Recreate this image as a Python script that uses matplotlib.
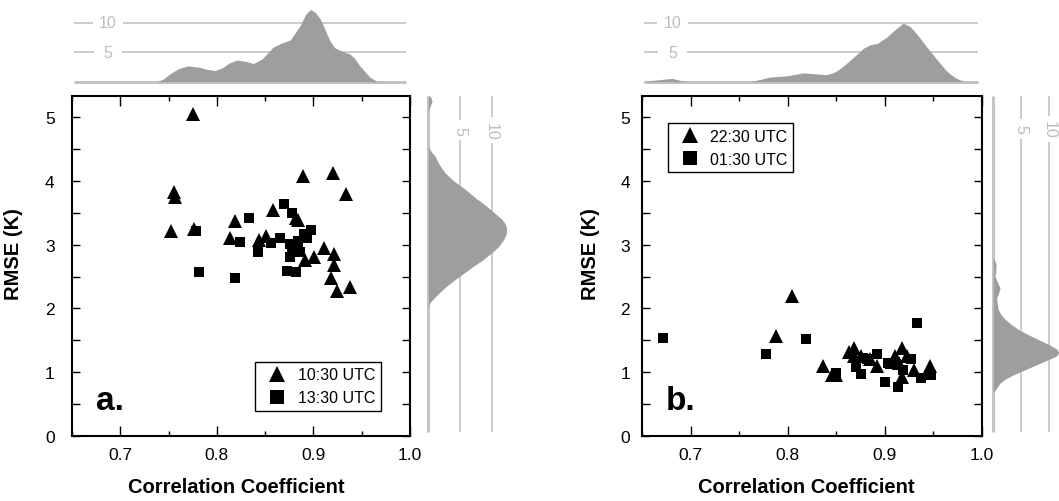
import numpy as np
import matplotlib
matplotlib.use("Agg")
import matplotlib.pyplot as plt

plt.rcParams['font.family'] = ['Liberation Sans', 'DejaVu Sans']

# ---- scatter data ----
# panel a: 10:30 UTC (triangles) and 13:30 UTC (squares)
a_tri_r = [0.775, 0.756, 0.757, 0.752, 0.776, 0.889, 0.920, 0.934, 0.858, 0.819, 0.814, 0.882,
           0.884, 0.844, 0.851, 0.911, 0.921, 0.921, 0.901, 0.891, 0.918, 0.924, 0.938]
a_tri_e = [5.05, 3.82, 3.74, 3.21, 3.24, 4.08, 4.13, 3.80, 3.55, 3.37, 3.11, 3.42,
           3.38, 3.08, 3.13, 2.94, 2.86, 2.68, 2.80, 2.76, 2.47, 2.28, 2.34]
a_sq_r = [0.778, 0.781, 0.819, 0.824, 0.833, 0.843, 0.856, 0.865, 0.870, 0.878, 0.876,
          0.878, 0.876, 0.884, 0.890, 0.897, 0.873, 0.882, 0.886, 0.884, 0.893]
a_sq_e = [3.21, 2.57, 2.47, 3.04, 3.42, 2.89, 3.02, 3.10, 3.63, 3.49, 3.01,
          2.88, 2.80, 2.93, 3.16, 3.23, 2.59, 2.57, 2.88, 3.06, 3.10]

# panel b: 22:30 UTC (triangles) and 01:30 UTC (squares)
b_tri_r = [0.804, 0.788, 0.836, 0.846, 0.850, 0.863, 0.868, 0.875, 0.868, 0.892, 0.910,
           0.918, 0.923, 0.930, 0.946, 0.918, 0.885, 0.915]
b_tri_e = [2.20, 1.57, 1.10, 0.96, 0.95, 1.32, 1.38, 1.25, 1.25, 1.09, 1.25,
           1.38, 1.25, 1.04, 1.10, 0.93, 1.20, 1.15]
b_sq_r = [0.672, 0.778, 0.819, 0.933, 0.850, 0.870, 0.875, 0.877, 0.892, 0.900, 0.903,
          0.914, 0.911, 0.937, 0.947, 0.919, 0.882, 0.927, 0.905]
b_sq_e = [1.54, 1.29, 1.52, 1.77, 0.99, 1.08, 0.97, 1.22, 1.28, 0.84, 1.15,
          0.77, 1.13, 0.91, 0.96, 1.04, 1.20, 1.20, 1.13]

labels_a = ['10:30 UTC', '13:30 UTC']
labels_b = ['22:30 UTC', '01:30 UTC']

# ---- marginal density curves ----
a_top_r = [0.650, 0.738, 0.745, 0.751, 0.760, 0.770, 0.782, 0.790, 0.798, 0.806, 0.813, 0.821,
           0.830, 0.838, 0.847, 0.858, 0.867, 0.876, 0.886, 0.892, 0.897, 0.902, 0.907, 0.912,
           0.917, 0.922, 0.928, 0.938, 0.943, 0.948, 0.954, 0.959, 0.966, 1.0]
a_top_d = [0, 0, 0.5, 1.3, 2.2, 2.7, 2.45, 2.1, 1.9, 2.4, 3.2, 3.7,
           3.45, 3.1, 3.9, 5.85, 6.6, 7.1, 9.5, 11.5, 12.3, 11.8, 10.7, 8.9,
           7.0, 5.8, 5.3, 4.7, 3.9, 2.7, 1.6, 0.7, 0.05, 0]

b_top_r = [0.650, 0.665, 0.681, 0.694, 0.700, 0.761, 0.772, 0.782, 0.799, 0.816, 0.828, 0.840,
           0.848, 0.854, 0.861, 0.868, 0.878, 0.885, 0.892, 0.902, 0.910, 0.919, 0.926, 0.933,
           0.940, 0.947, 0.955, 0.962, 0.968, 0.974, 0.981, 1.0]
b_top_d = [0, 0.3, 0.56, 0.05, 0, 0, 0.4, 0.8, 1.0, 1.5, 1.35, 1.2,
           1.6, 2.25, 3.2, 4.2, 5.7, 6.3, 6.5, 7.6, 8.8, 10.0, 9.4, 8.1,
           6.6, 5.1, 3.5, 2.1, 1.2, 0.56, 0.05, 0]

a_side_e = [5.33, 5.25, 5.17, 5.09, 4.54, 4.45, 4.39, 4.26, 4.13, 4.00, 3.87, 3.73, 3.60, 3.40,
            3.32, 3.24, 3.16, 3.08, 2.97, 2.87, 2.76, 2.66, 2.55, 2.45, 2.35, 2.25, 2.15,
            2.09, 2.01, 0.05]
a_side_d = [0.3, 0.6, 0.3, 0, 0, 0.5, 1.05, 1.7, 2.6, 4.0, 5.8, 7.5, 9.25, 11.6,
            12.2, 12.4, 12.3, 11.9, 11.1, 10.0, 8.6, 7.1, 5.6, 4.2, 2.9, 1.8, 0.8,
            0.26, 0, 0]

b_side_e = [5.33, 2.80, 2.70, 2.60, 2.50, 2.40, 2.32, 2.23, 2.16, 2.07, 1.98, 1.90, 1.83,
            1.75, 1.67, 1.59, 1.51, 1.43, 1.36, 1.30, 1.25, 1.20, 1.12, 1.04, 0.96, 0.89,
            0.82, 0.75, 0.68, 0.05]
b_side_d = [0, 0, 0.5, 0.45, 0.3, 0.8, 1.2, 0.9, 0.6, 0.7, 0.9, 1.4, 2.1,
            3.2, 4.5, 6.2, 8.1, 10.0, 11.4, 11.7, 11.2, 9.9, 7.8, 5.7, 3.6, 2.1,
            1.1, 0.6, 0, 0]

W, H = 1059, 502
fig = plt.figure(figsize=(W / 100, H / 100), dpi=100)


def box(l, t, r, b):
    # pixel box -> figure fraction
    return [l / W, 1 - b / H, (r - l) / W, (b - t) / H]


XLIM = (0.65, 1.0)
YLIM = (0.0, 5.33)
grid_c = '#c8c8c8'
lab_c = '#bdbdbd'
fill_c = '#9e9e9e'


def main_panel(rect, tri_r, tri_e, sq_r, sq_e, labels, letter, leg_loc, leg_anchor, ypad, xlab_x, ylab_x):
    ax = fig.add_axes(rect)
    ax.plot(tri_r, tri_e, '^', color='k', ms=10, mew=0, label=labels[0])
    ax.plot(sq_r, sq_e, 's', color='k', ms=7.8, mew=0, label=labels[1])
    ax.set_xlim(*XLIM)
    ax.set_ylim(*YLIM)
    ax.set_xticks([0.7, 0.8, 0.9, 1.0])
    ax.set_xticklabels(['0.7', '0.8', '0.9', '1.0'])
    ax.set_xticks([0.65, 0.75, 0.85, 0.95], minor=True)
    ax.set_yticks([0, 1, 2, 3, 4, 5])
    ax.set_yticks([0.5, 1.5, 2.5, 3.5, 4.5], minor=True)
    ax.tick_params(which='both', direction='in', top=True, right=True, width=1, labelsize=12.5)
    ax.tick_params(axis='x', which='major', length=7, pad=8)
    ax.tick_params(axis='x', which='minor', length=3.5)
    ax.tick_params(axis='y', which='both', length=6, pad=ypad)
    for s in ax.spines.values():
        s.set_linewidth(1.5)
    leg = ax.legend(loc=leg_loc, bbox_to_anchor=leg_anchor, borderaxespad=0, fancybox=False,
                    edgecolor='k', framealpha=1, fontsize=11.5, handlelength=2.0,
                    handletextpad=0.3, borderpad=0.35, labelspacing=0.5)
    leg.get_frame().set_linewidth(1.0)
    leg.legend_handles[0].set_markersize(11)
    leg.legend_handles[1].set_markersize(10.5)
    ax.text(0.07, 0.079, letter, transform=ax.transAxes, fontsize=24, fontweight='bold',
            ha='left', va='baseline')
    fig.text(xlab_x / W, 1 - 488 / H, 'Correlation Coefficient', fontsize=14.5, fontweight='bold',
             ha='center', va='center')
    fig.text(ylab_x / W, 1 - 254 / H, 'RMSE (K)', fontsize=14.5, fontweight='bold',
             rotation=90, ha='center', va='center')
    return ax


def top_panel(rect, xs, ds, lab_x):
    ax = fig.add_axes(rect)
    ax.set_xlim(*XLIM)
    ax.set_ylim(0, 14)
    ax.axis('off')
    ax.hlines([5, 10], 0.652, 0.996, color=grid_c, lw=1.3, zorder=1)
    ax.hlines([0], 0.652, 0.996, color='#c4c4c4', lw=2.2, zorder=1, clip_on=False)
    ax.fill_between(xs, 0, ds, color=fill_c, lw=0, zorder=2)
    ax.text(lab_x, 10, '10', ha='center', va='center', fontsize=11.5, color=lab_c, zorder=3,
            bbox=dict(fc='white', ec='none', pad=4.5))
    ax.text(lab_x, 5, '5', ha='center', va='center', fontsize=11.5, color=lab_c, zorder=3,
            bbox=dict(fc='white', ec='none', pad=7))


def side_panel(rect, es, ds, lab_e):
    ax = fig.add_axes(rect)
    ax.set_ylim(*YLIM)
    ax.set_xlim(0, 14)
    ax.axis('off')
    ax.vlines([5, 10], 0.06, 5.33, color=grid_c, lw=1.3, zorder=1)
    ax.vlines([0], 0.06, 5.33, color='#c4c4c4', lw=2.2, zorder=1, clip_on=False)
    ax.fill_betweenx(es, 0, ds, color=fill_c, lw=0, zorder=2)
    ax.text(10, lab_e, '10', ha='center', va='center', fontsize=11.5, color=lab_c, zorder=3,
            rotation=-90, bbox=dict(fc='white', ec='none', pad=3))
    ax.text(5, lab_e, '5', ha='center', va='center', fontsize=11.5, color=lab_c, zorder=3,
            rotation=-90, bbox=dict(fc='white', ec='none', pad=4))


main_panel(box(72, 97, 410, 437), a_tri_r, a_tri_e, a_sq_r, a_sq_e, labels_a, 'a.',
           'lower right', (0.913, 0.074), 12.5, 236, 14)
main_panel(box(642, 97, 982, 437), b_tri_r, b_tri_e, b_sq_r, b_sq_e, labels_b, 'b.',
           'upper left', (0.0765, 0.9206), 8.5, 806, 591)

top_panel(box(72, 0.5, 410, 82.7), a_top_r, a_top_d, 0.6873)
top_panel(box(642, 0.5, 982, 82.7), b_top_r, b_top_d, 0.6814)

side_panel(box(428.3, 97, 428.3 + 14 * 6.33, 437), a_side_e, a_side_d, 4.79)
side_panel(box(993.3, 97, 993.3 + 14 * 5.6, 437), b_side_e, b_side_d, 4.82)

fig.savefig('out.png', dpi=100)
